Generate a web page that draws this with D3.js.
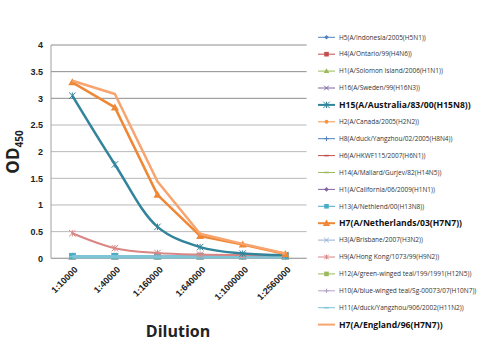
<!DOCTYPE html>
<html><head><meta charset="utf-8">
<script src="https://cdn.jsdelivr.net/npm/d3@7"></script>
<style>body{margin:0;background:#fff}svg{display:block;font-family:"Open Sans","DejaVu Sans",sans-serif}</style>
</head><body><svg id="c" width="487" height="355"></svg>
<script>
const categories = ["1:10000","1:40000","1:160000","1:640000","1:1000000","1:2560000"];
const yTicks = [0,0.5,1,1.5,2,2.5,3,3.5,4];
const seriesNames = [
 "H5(A/Indonesia/2005(H5N1))","H4(A/Ontario/99(H4N6))","H1(A/Solomon Island/2006(H1N1))",
 "H16(A/Sweden/99(H16N3))","H15(A/Australia/83/00(H15N8))","H2(A/Canada/2005(H2N2))",
 "H8(A/duck/Yangzhou/02/2005(H8N4))","H6(A/HKWF115/2007(H6N1))","H14(A/Mallard/Gurjev/82(H14N5))",
 "H1(A/California/06/2009(H1N1))","H13(A/Nethlend/00(H13N8))","H7(A/Netherlands/03(H7N7))",
 "H3(A/Brisbane/2007(H3N2))","H9(A/Hong Kong/1073/99(H9N2))","H12(A/green-winged teal/199/1991(H12N5))",
 "H10(A/blue-winged teal/Sg-00073/07(H10N7))","H11(A/duck/Yangzhou/906/2002(H11N2))","H7(A/England/96(H7N7))"];
const v_H5  = [0.04,0.04,0.04,0.04,0.04,0.04];
const v_H4  = [0.04,0.04,0.04,0.04,0.04,0.04];
const v_H1s = [0.04,0.04,0.04,0.04,0.04,0.04];
const v_H16 = [0.04,0.04,0.04,0.04,0.04,0.04];
const v_H15 = [3.05,1.76,0.59,0.21,0.09,0.06];
const v_H2  = [0.04,0.04,0.04,0.04,0.04,0.04];
const v_H8  = [0.04,0.04,0.04,0.04,0.04,0.04];
const v_H6  = [0.04,0.04,0.04,0.04,0.04,0.04];
const v_H14 = [0.04,0.04,0.04,0.04,0.04,0.04];
const v_H1c = [0.04,0.04,0.04,0.04,0.04,0.04];
const v_H13 = [0.04,0.04,0.04,0.04,0.04,0.04];
const v_H7N = [3.30,2.83,1.19,0.42,0.26,0.08];
const v_H3  = [0.04,0.04,0.04,0.04,0.04,0.04];
const v_H9  = [0.47,0.19,0.10,0.07,0.06,0.06];
const v_H12 = [0.04,0.04,0.04,0.04,0.04,0.04];
const v_H10 = [0.04,0.04,0.04,0.04,0.04,0.04];
const v_H11 = [0.03,0.03,0.03,0.03,0.03,0.03];
const v_H7E = [3.33,3.08,1.44,0.46,0.27,0.09];
const seriesValues = [v_H5,v_H4,v_H1s,v_H16,v_H15,v_H2,v_H8,v_H6,v_H14,v_H1c,v_H13,v_H7N,v_H3,v_H9,v_H12,v_H10,v_H11,v_H7E];
const colors = ["#4F81BD","#C0504D","#9BBB59","#8064A2","#31849B","#F79646","#4F81BD","#C0504D","#9BBB59",
 "#8064A2","#4BACC6","#EE8836","#95B3D7","#D98684","#9BBB59","#B3A2C7","#7EC3D6","#F8A46E"];
const markers = ["diamond","square","triangle","x","star","circle","plus","dash","dash","diamond","square","triangle","x","star","square","plus","dash","none"];
const bold = [4,11,17];

const svg = d3.select("#c");
const L=51,R=306.6,T=45,B=258.3;
const x = d3.scaleBand().domain(categories).range([L,R]);
const y = d3.scaleLinear().domain([0,4]).range([B,T]);
const cx = c => x(c)+x.bandwidth()/2;

// grid
svg.append("g").selectAll("line").data(yTicks).join("line")
 .attr("x1",L).attr("x2",R).attr("y1",d=>y(d)).attr("y2",d=>y(d))
 .attr("stroke",d=>d>=3?"#8c8c8c":"#b8b8b8").attr("stroke-width",1);
svg.append("line").attr("x1",L).attr("x2",L).attr("y1",T).attr("y2",B).attr("stroke","#a0a0a0");
svg.append("line").attr("x1",L).attr("x2",R).attr("y1",B).attr("y2",B).attr("stroke","#a0a0a0");

const yAxis = d3.axisLeft(y).tickValues(yTicks).tickSize(0).tickPadding(8).tickFormat(d3.format("~g"));
const gy = svg.append("g").attr("transform",`translate(${L},0)`).call(yAxis);
gy.select(".domain").remove();
gy.selectAll("text").attr("font-size",9).attr("font-weight","bold").attr("fill","#222");

const xAxis = d3.axisBottom(x).tickSize(0).tickPadding(0);
const gx = svg.append("g").attr("transform",`translate(0,${B})`).call(xAxis);
gx.select(".domain").remove();
gx.selectAll("text").attr("font-size",9).attr("font-weight","bold").attr("fill","#222")
 .attr("text-anchor","end").attr("dy",0).attr("transform","translate(6,12) rotate(-45)");

// axis titles
svg.append("text").attr("x",178).attr("y",337).attr("text-anchor","middle")
 .attr("font-size",16).attr("font-weight","bold").attr("fill","#222").text("Dilution");
const yt = svg.append("text").attr("transform","translate(19,152) rotate(-90)").attr("text-anchor","middle")
 .attr("font-weight","bold").attr("fill","#222");
yt.append("tspan").attr("font-size",17).text("OD");
yt.append("tspan").attr("font-size",10).attr("dy",4).text("450");

function drawMarker(g,type,color,px,py,s){
 s=s||3;
 if(type==="none")return;
 if(type==="diamond") g.append("path").attr("d",`M${px},${py-s}L${px+s},${py}L${px},${py+s}L${px-s},${py}Z`).attr("fill",color);
 else if(type==="square") g.append("rect").attr("x",px-s).attr("y",py-s).attr("width",2*s).attr("height",2*s).attr("fill",color);
 else if(type==="triangle") g.append("path").attr("d",`M${px},${py-s-0.5}L${px+s+0.5},${py+s-0.5}L${px-s-0.5},${py+s-0.5}Z`).attr("fill",color);
 else if(type==="circle") g.append("circle").attr("cx",px).attr("cy",py).attr("r",s*0.85).attr("fill",color);
 else if(type==="x") g.append("path").attr("d",`M${px-s},${py-s}L${px+s},${py+s}M${px-s},${py+s}L${px+s},${py-s}`).attr("stroke",color).attr("stroke-width",1);
 else if(type==="star") g.append("path").attr("d",`M${px-s},${py-s}L${px+s},${py+s}M${px-s},${py+s}L${px+s},${py-s}M${px},${py-s}L${px},${py+s}`).attr("stroke",color).attr("stroke-width",1);
 else if(type==="plus") g.append("path").attr("d",`M${px-s},${py}L${px+s},${py}M${px},${py-s}L${px},${py+s}`).attr("stroke",color).attr("stroke-width",1);
 else if(type==="dash") g.append("path").attr("d",`M${px-s},${py}L${px+s},${py}`).attr("stroke",color).attr("stroke-width",1.5);
}

const smooth = [4,13];
const line = d3.line().x((d,i)=>cx(categories[i])).y(d=>y(d));
const lineSmooth = d3.line().x((d,i)=>cx(categories[i])).y(d=>y(d)).curve(d3.curveCatmullRom.alpha(0.5));
const plot = svg.append("g");
const order = [0,1,2,3,5,6,7,8,9,12,14,15,10,16,13,4,11,17];
order.forEach(i=>{
 const w = (i===4||i===11||i===17)?2.5:(i===16?3.5:2);
 plot.append("path").attr("d",(smooth.includes(i)?lineSmooth:line)(seriesValues[i]))
  .attr("fill","none").attr("stroke",colors[i]).attr("stroke-width",w).attr("stroke-linejoin","round");
 const mg = plot.append("g");
 seriesValues[i].forEach((v,j)=>drawMarker(mg,markers[i], i===14?"#A6C06A":colors[i], cx(categories[j]), y(v), i===11?3.5:3.2));
});

// legend
const lg = svg.append("g");
seriesNames.forEach((n,i)=>{
 const ly = 37.3 + i*16.9;
 const b = bold.includes(i);
 lg.append("line").attr("x1",318).attr("x2",335).attr("y1",ly).attr("y2",ly).attr("stroke",colors[i]).attr("stroke-width",b?2:1);
 drawMarker(lg,markers[i],colors[i],326.5,ly,b?3.2:2.3);
 lg.append("text").attr("x",339).attr("y",ly).attr("dy","0.35em")
  .attr("font-size",b?8.6:6.5).attr("font-weight",b?"bold":"normal").attr("fill",b?"#111":"#333").text(n);
});
</script></body></html>
